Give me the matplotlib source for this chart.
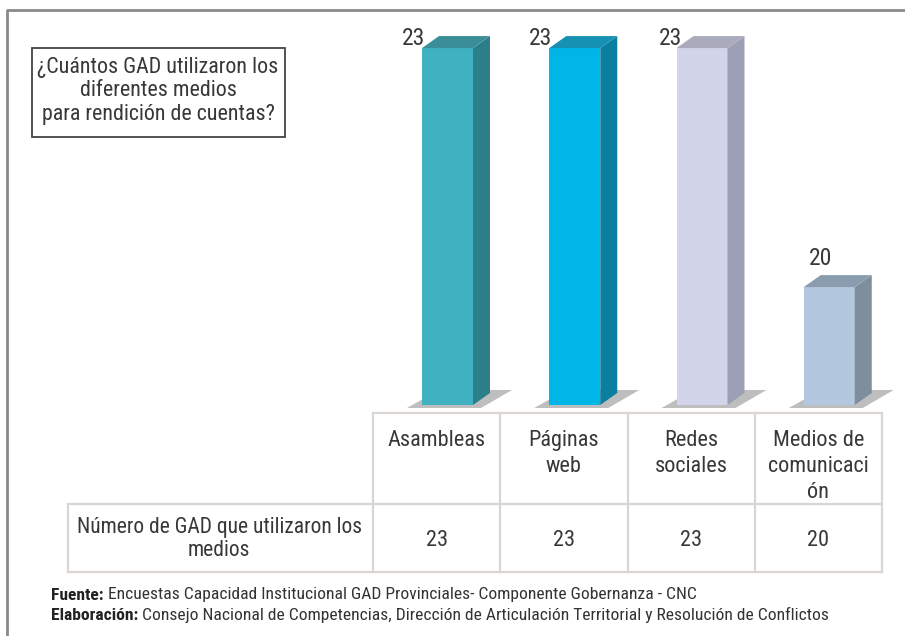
import matplotlib
matplotlib.use("Agg")
import matplotlib.pyplot as plt
from matplotlib.patches import Polygon, Rectangle

plt.rcParams['font.family'] = ['Roboto Condensed', 'Archivo Narrow', 'DejaVu Sans']

# Data
categories = ['Asambleas', 'Páginas\nweb', 'Redes\nsociales', 'Medios de\ncomunicaci\nón']
values = [23, 23, 23, 20]
row_label = 'Número de GAD que utilizaron los\nmedios'
question = '¿Cuántos GAD utilizaron los\ndiferentes medios\npara rendición de cuentas?'
fuente = 'Encuestas Capacidad Institucional GAD Provinciales- Componente Gobernanza - CNC'
elaboracion = ('Consejo Nacional de Competencias, Dirección de Articulación Territorial '
               'y Resolución de Conflictos')

# Colours per bar: front, side, top
front_cols = ['#3fb1c1', '#00b5e8', '#d2d4ea', '#b3c8df']
side_cols = ['#2c7f88', '#0b7fa0', '#9c9fb5', '#7d8f9d']
top_cols = ['#3a8e98', '#1791b3', '#a9abbd', '#8a9dae']

W, H = 905, 636
fig = plt.figure(figsize=(W / 100, H / 100), dpi=100)
fig.patch.set_facecolor('white')

# background axes in pixel coordinates for frame, table and texts
bg = fig.add_axes([0, 0, 1, 1])
bg.set_xlim(0, W)
bg.set_ylim(H, 0)
bg.axis('off')

txt = '#383838'
grid_c = '#dcd6d2'

# outer frame
bg.plot([7, 7, W], [H, 10, 10], color='#8a8a8a', lw=2, solid_capstyle='butt')

# question box
bg.add_patch(Rectangle((32, 48), 253, 89, fill=False, ec='#444444', lw=1.3))
bg.text(158, 91, question, ha='center', va='center', fontsize=15.8,
        color=txt, linespacing=1.15)

# table
col_x0, col_x1 = 373, 882
col_w = (col_x1 - col_x0) / len(categories)
row_top, row_mid, row_bot = 413, 504, 572
left_x = 68
bg.plot([col_x0, col_x1], [row_top, row_top], color=grid_c, lw=1.6)
bg.plot([left_x, col_x1], [row_mid, row_mid], color=grid_c, lw=1.6)
bg.plot([left_x, col_x1], [row_bot, row_bot], color=grid_c, lw=1.6)
bg.plot([left_x, left_x], [row_mid, row_bot], color=grid_c, lw=1.6)
for i in range(len(categories) + 1):
    x = col_x0 + i * col_w
    bg.plot([x, x], [row_top, row_bot], color=grid_c, lw=1.6)

for i, (cat, v) in enumerate(zip(categories, values)):
    cx = col_x0 + (i + 0.5) * col_w
    bg.text(cx, 430, cat, ha='center', va='top', fontsize=16, color=txt,
            linespacing=1.3)
    bg.text(cx, 540, str(v), ha='center', va='center', fontsize=16, color=txt)

bg.text(219, 539, row_label, ha='center', va='center', fontsize=15.5,
        color=txt, linespacing=1.1)

# footer
t1 = bg.text(51, 595, 'Fuente:', ha='left', va='center', fontsize=12.6,
             fontweight='bold', color='#222222')
bg.annotate(' ' + fuente, xy=(1, 0.5), xycoords=t1, ha='left', va='center',
            fontsize=12.6, color='#333333')
t2 = bg.text(51, 615, 'Elaboración:', ha='left', va='center', fontsize=12.6,
             fontweight='bold', color='#222222')
bg.annotate(' ' + elaboracion, xy=(1, 0.5), xycoords=t2, ha='left', va='center',
            fontsize=12.6, color='#333333')

# bar axes: x in pixels, y in values
bar_bottom_px = 405
base = 18.52
ppu = 79.67  # pixels per unit
ax = fig.add_axes([0, 1 - bar_bottom_px / H, 1, bar_bottom_px / H])
ax.set_xlim(0, W)
ax.set_ylim(base, base + bar_bottom_px / ppu)
ax.axis('off')
ax.patch.set_alpha(0)

bw, dx, dy_px = 51, 17, 12
dy = dy_px / ppu
lefts = [col_x0 + i * col_w + 49 for i in range(len(values))]
label_off = [(-9, 10), (-9, 10), (-6, 10), (17, 29)]

for i, v in enumerate(values):
    l = lefts[i]
    r = l + bw
    # floor shadow
    ax.add_patch(Polygon([(l - 15, base - 3 / ppu), (r + 8, base - 3 / ppu),
                          (r + dx + 22, base + 15 / ppu), (l + dx, base + 15 / ppu)],
                         closed=True, fc='#707070', ec='none', alpha=0.45,
                         clip_on=False, zorder=1))
    ax.bar(l, v - base, bottom=base, width=bw, align='edge', color=front_cols[i],
           edgecolor='none', zorder=3)
    ax.add_patch(Polygon([(r, base), (r + dx, base + dy), (r + dx, v + dy), (r, v)],
                         closed=True, fc=side_cols[i], ec='none', zorder=3))
    ax.add_patch(Polygon([(l, v), (r, v), (r + dx, v + dy), (l + dx, v + dy)],
                         closed=True, fc=top_cols[i], ec='none', zorder=3))
    ox, oy = label_off[i]
    ax.text(l + ox, v + oy / ppu, str(v), ha='center', va='center',
            fontsize=17, color=txt, zorder=4)

fig.savefig('out.png', dpi=100, facecolor='white')
